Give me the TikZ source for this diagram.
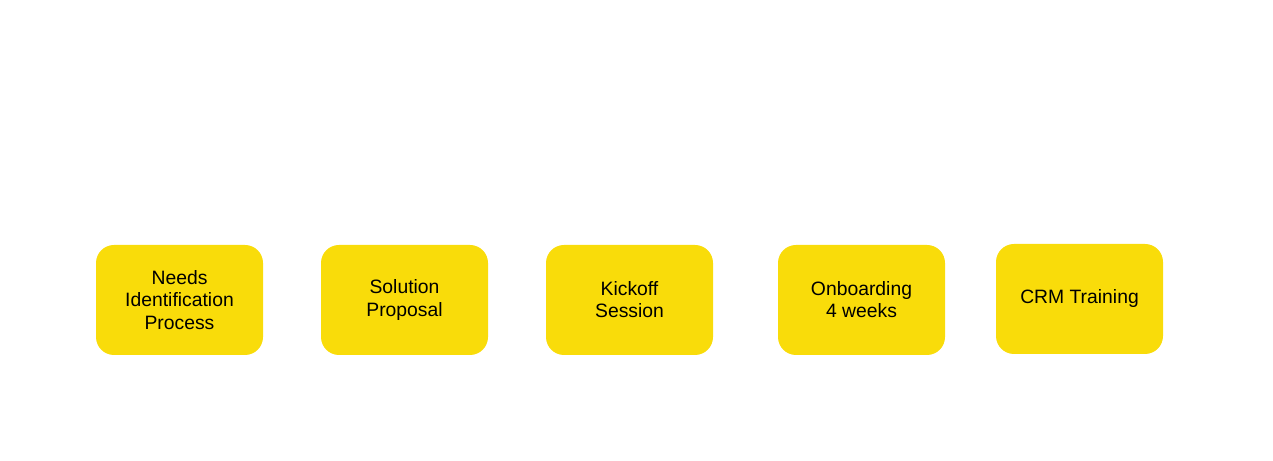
\documentclass[tikz,border=0pt]{standalone}
\usepackage{fontspec}
\setmainfont{Liberation Sans}
\definecolor{stepyellow}{HTML}{F9DC0A}
\begin{document}
\begin{tikzpicture}[%
% common options for the step boxes:
stage/.style = {rectangle, rounded corners=0.36cm, fill=stepyellow, align=center,
            minimum width=3.34cm, minimum height=2.2cm, inner sep=0,
            font=\fontsize{11}{12.6}\selectfont}]
\useasboundingbox (0,0) rectangle (25.46,-9.22);
\node[stage] (S1) at (3.59,-6.00) {Needs\\Identification\\Process};
\node[stage] (S2) at (8.09,-6.00) {Solution\\Proposal};
\node[stage] (S3) at (12.59,-6.00) {Kickoff\\Session};
\node[stage] (S4) at (17.23,-6.00) {Onboarding\\4 weeks};
\node[stage] (S5) at (21.59,-5.98) {CRM Training};
\end{tikzpicture}
\end{document}
